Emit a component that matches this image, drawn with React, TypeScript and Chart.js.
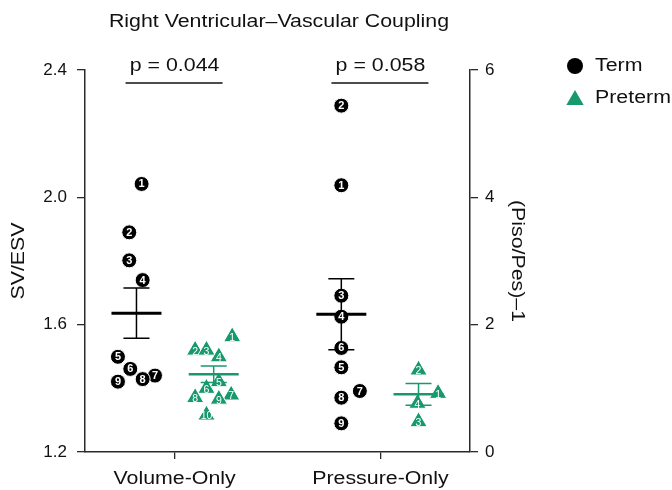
import React, { useEffect, useRef } from 'react';
import { Chart, registerables } from 'chart.js';

Chart.register(...registerables);

// ---- data ----
const categories = ['Volume-Only', 'Pressure-Only'];
const categoryPositions = [1, 3];
const pValueLabels = ['p = 0.044', 'p = 0.058'];
const titleText = 'Right Ventricular–Vascular Coupling';
const leftAxisTitle = 'SV/ESV';
const rightAxisTitle = '(Piso/Pes)–1';
const legendLabels = ['Term', 'Preterm'];
const leftTicks = [1.2, 1.6, 2.0, 2.4];
const rightTicks = [0, 2, 4, 6];

// Volume-Only (SV/ESV, left axis)
const termVolumeIds = [1, 2, 3, 4, 5, 6, 7, 8, 9];
const termVolumeValues = [2.042, 1.89, 1.802, 1.74, 1.499, 1.461, 1.44, 1.429, 1.421];
const termVolumeJitter = [-0.32, -0.44, -0.44, -0.31, -0.55, -0.43, -0.19, -0.31, -0.55];

const pretermVolumeIds = [1, 2, 3, 4, 5, 6, 7, 8, 9, 10];
const pretermVolumeValues = [1.562, 1.52, 1.52, 1.499, 1.421, 1.4, 1.379, 1.371, 1.366, 1.316];
const pretermVolumeJitter = [0.56, 0.2, 0.31, 0.43, 0.43, 0.31, 0.55, 0.2, 0.43, 0.31];

// Pressure-Only ((Piso/Pes)-1, right axis)
const termPressureIds = [1, 2, 3, 4, 5, 6, 7, 8, 9];
const termPressureValues = [4.19, 5.44, 2.455, 2.125, 1.33, 1.634, 0.958, 0.853, 0.45];
const termPressureJitter = [-0.38, -0.38, -0.38, -0.38, -0.38, -0.38, -0.2, -0.38, -0.38];

const pretermPressureIds = [1, 2, 3, 4];
const pretermPressureValues = [0.921, 1.288, 0.476, 0.765];
const pretermPressureJitter = [0.56, 0.37, 0.37, 0.36];

// group summaries: mean and SEM (Term-Vol, Preterm-Vol, Term-Press, Preterm-Press)
const groupMeans = [1.636, 1.444, 2.163, 0.906];
const groupSem = [0.079, 0.026, 0.557, 0.17];
const groupOffsets = [-0.37, 0.38, -0.38, 0.37];
const groupCategory = [0, 0, 1, 1];
const groupAxis = ['y', 'y', 'y2', 'y2'];
const groupIsTerm = [true, false, true, false];

const TERM_COLOR = '#000000';
const PRETERM_COLOR = '#17996d';
const TEXT_COLOR = '#111111';
const AXIS_COLOR = '#2a2a2a';
const FONT_FAMILY = '"Liberation Sans", Arial, Helvetica, sans-serif';
const TEXT_STRETCH = 1.22;

function makePoints(values: number[], jitter: number[], cat: number) {
  return values.map((v, i) => ({ x: categoryPositions[cat] + jitter[i], y: v }));
}

function drawTriangle(ctx: CanvasRenderingContext2D, x: number, y: number, r: number) {
  ctx.beginPath();
  ctx.moveTo(x, y - r);
  ctx.lineTo(x + r * Math.sin(Math.PI / 3), y + r / 2);
  ctx.lineTo(x - r * Math.sin(Math.PI / 3), y + r / 2);
  ctx.closePath();
}

function stretchFor(text: any) {
  const s = String(text);
  return /^[\d.\s]+$/.test(s) ? 1 : TEXT_STRETCH;
}

// widen word labels horizontally, as in the reference figure
const wideTextPlugin = {
  id: 'wideText',
  beforeInit(chart: any) {
    const ctx: any = chart.ctx;
    if (ctx.__wide) return;
    ctx.__wide = true;
    const origFill = ctx.fillText.bind(ctx);
    const origMeasure = ctx.measureText.bind(ctx);
    ctx.fillText = (text: string, x: number, y: number, maxWidth?: number) => {
      const f = stretchFor(text);
      if (f === 1) {
        if (maxWidth === undefined) origFill(text, x, y);
        else origFill(text, x, y, maxWidth);
        return;
      }
      ctx.save();
      ctx.translate(x, y);
      ctx.scale(f, 1);
      origFill(text, 0, 0);
      ctx.restore();
    };
    ctx.measureText = (text: string) => {
      const m = origMeasure(text);
      const f = stretchFor(text);
      if (f === 1) return m;
      return {
        width: m.width * f,
        actualBoundingBoxAscent: m.actualBoundingBoxAscent,
        actualBoundingBoxDescent: m.actualBoundingBoxDescent,
        actualBoundingBoxLeft: m.actualBoundingBoxLeft * f,
        actualBoundingBoxRight: m.actualBoundingBoxRight * f,
        fontBoundingBoxAscent: m.fontBoundingBoxAscent,
        fontBoundingBoxDescent: m.fontBoundingBoxDescent,
      };
    };
  },
};

const overlayPlugin = {
  id: 'overlay',
  afterDatasetsDraw(chart: any) {
    const ctx: CanvasRenderingContext2D = chart.ctx;
    const xs = chart.scales.x;
    const area = chart.chartArea;
    ctx.save();

    // mean +/- SEM bars
    groupMeans.forEach((m, g) => {
      const ys = chart.scales[groupAxis[g]];
      const cx = xs.getPixelForValue(categoryPositions[groupCategory[g]] + groupOffsets[g]);
      const my = ys.getPixelForValue(m);
      const top = ys.getPixelForValue(m + groupSem[g]);
      const bot = ys.getPixelForValue(m - groupSem[g]);
      const col = groupIsTerm[g] ? TERM_COLOR : PRETERM_COLOR;
      ctx.strokeStyle = col;
      ctx.lineWidth = 1.5;
      ctx.beginPath();
      ctx.moveTo(cx, top);
      ctx.lineTo(cx, bot);
      ctx.moveTo(cx - 13, top);
      ctx.lineTo(cx + 13, top);
      ctx.moveTo(cx - 13, bot);
      ctx.lineTo(cx + 13, bot);
      ctx.stroke();
      ctx.lineWidth = groupIsTerm[g] ? 3 : 2.5;
      ctx.beginPath();
      ctx.moveTo(cx - 25, my);
      ctx.lineTo(cx + 25, my);
      ctx.stroke();
    });

    // numeric labels inside markers
    const idLists = [termVolumeIds, pretermVolumeIds, termPressureIds, pretermPressureIds];
    chart.data.datasets.forEach((ds: any, di: number) => {
      if (di > 3) return;
      const meta = chart.getDatasetMeta(di);
      const isTriangle = di % 2 === 1;
      ctx.fillStyle = '#ffffff';
      ctx.textAlign = 'center';
      ctx.textBaseline = 'middle';
      ctx.font = isTriangle ? `10.5px ${FONT_FAMILY}` : `bold 11px ${FONT_FAMILY}`;
      meta.data.forEach((pt: any, i: number) => {
        const dy = isTriangle ? 1.5 : 0.5;
        ctx.fillText(String(idLists[di][i]), pt.x, pt.y + dy);
      });
    });

    // p-value brackets
    ctx.fillStyle = TEXT_COLOR;
    ctx.strokeStyle = '#111111';
    ctx.lineWidth = 1.5;
    ctx.font = `17.5px ${FONT_FAMILY}`;
    ctx.textAlign = 'center';
    ctx.textBaseline = 'middle';
    categoryPositions.forEach((p, i) => {
      const cx = xs.getPixelForValue(p);
      ctx.beginPath();
      ctx.moveTo(cx - 49, area.top + 13);
      ctx.lineTo(cx + 48, area.top + 13);
      ctx.stroke();
      ctx.fillText(pValueLabels[i], cx, area.top - 4);
    });

    // legend
    const lx = area.right + 105;
    ctx.textAlign = 'left';
    ctx.fillStyle = TERM_COLOR;
    ctx.beginPath();
    ctx.arc(lx, area.top - 4, 8, 0, Math.PI * 2);
    ctx.fill();
    ctx.fillStyle = PRETERM_COLOR;
    drawTriangle(ctx, lx, area.top + 30, 10);
    ctx.fill();
    ctx.fillStyle = TEXT_COLOR;
    ctx.fillText(legendLabels[0], lx + 20, area.top - 4);
    ctx.fillText(legendLabels[1], lx + 20, area.top + 28);
    ctx.restore();
  },
};

export default function App() {
  const ref = useRef<HTMLCanvasElement | null>(null);
  useEffect(() => {
    if (!ref.current) return;
    const tickFont = { family: FONT_FAMILY, size: 17 };
    const labelFont = { family: FONT_FAMILY, size: 17.5 };
    const chart = new Chart(ref.current, {
      type: 'scatter',
      data: {
        datasets: [
          {
            label: 'Term',
            data: makePoints(termVolumeValues, termVolumeJitter, 0),
            yAxisID: 'y',
            pointStyle: 'circle',
            pointRadius: 7.5,
            backgroundColor: TERM_COLOR,
            borderColor: '#ffffff',
            borderWidth: 1,
          },
          {
            label: 'Preterm',
            data: makePoints(pretermVolumeValues, pretermVolumeJitter, 0),
            yAxisID: 'y',
            pointStyle: 'triangle',
            pointRadius: 10,
            backgroundColor: PRETERM_COLOR,
            borderColor: '#ffffff',
            borderWidth: 1,
          },
          {
            label: 'Term',
            data: makePoints(termPressureValues, termPressureJitter, 1),
            yAxisID: 'y2',
            pointStyle: 'circle',
            pointRadius: 7.5,
            backgroundColor: TERM_COLOR,
            borderColor: '#ffffff',
            borderWidth: 1,
          },
          {
            label: 'Preterm',
            data: makePoints(pretermPressureValues, pretermPressureJitter, 1),
            yAxisID: 'y2',
            pointStyle: 'triangle',
            pointRadius: 10,
            backgroundColor: PRETERM_COLOR,
            borderColor: '#ffffff',
            borderWidth: 1,
          },
        ],
      },
      options: {
        animation: false,
        responsive: false,
        devicePixelRatio: 1,
        layout: { padding: { left: 0, right: 114, top: 0, bottom: 0 } },
        plugins: {
          legend: { display: false },
          tooltip: { enabled: false },
          title: {
            display: true,
            text: titleText,
            color: TEXT_COLOR,
            font: { family: FONT_FAMILY, size: 17.5, weight: 'normal' },
            padding: { top: 12, bottom: 37 },
          },
        },
        scales: {
          x: {
            type: 'linear',
            min: 0.13,
            max: 3.87,
            afterBuildTicks: (s: any) => {
              s.ticks = categoryPositions.map((v) => ({ value: v }));
            },
            afterFit: (s: any) => {
              s.height = 38;
            },
            ticks: {
              font: labelFont,
              color: TEXT_COLOR,
              padding: 10,
              maxRotation: 0,
              callback: (v: any) => categories[categoryPositions.indexOf(Number(v))] ?? '',
            },
            grid: { drawOnChartArea: false, drawTicks: true, tickLength: 7, color: AXIS_COLOR, lineWidth: 1.3 },
            border: { display: true, color: AXIS_COLOR, width: 1.5 },
          },
          y: {
            type: 'linear',
            position: 'left',
            min: 1.2,
            max: 2.4,
            afterBuildTicks: (s: any) => {
              s.ticks = leftTicks.map((v) => ({ value: v }));
            },
            afterFit: (s: any) => {
              s.width = 85;
            },
            ticks: {
              font: tickFont,
              color: TEXT_COLOR,
              padding: 10,
              callback: (v: any) => Number(v).toFixed(1),
            },
            title: {
              display: true,
              text: leftAxisTitle,
              color: TEXT_COLOR,
              font: labelFont,
              padding: { top: 9, bottom: 0 },
            },
            grid: { drawOnChartArea: false, drawTicks: true, tickLength: 8, color: AXIS_COLOR, lineWidth: 1.3 },
            border: { display: true, color: AXIS_COLOR, width: 1.5 },
          },
          y2: {
            type: 'linear',
            position: 'right',
            min: 0,
            max: 6,
            afterBuildTicks: (s: any) => {
              s.ticks = rightTicks.map((v) => ({ value: v }));
            },
            afterFit: (s: any) => {
              s.width = 88;
            },
            ticks: {
              font: tickFont,
              color: TEXT_COLOR,
              padding: 7,
              callback: (v: any) => String(v),
            },
            title: {
              display: true,
              text: rightAxisTitle,
              color: TEXT_COLOR,
              font: labelFont,
              padding: { top: 31, bottom: 0 },
            },
            grid: { drawOnChartArea: false, drawTicks: true, tickLength: 8, color: AXIS_COLOR, lineWidth: 1.3 },
            border: { display: true, color: AXIS_COLOR, width: 1.5 },
          },
        },
      },
      plugins: [wideTextPlugin, overlayPlugin],
    } as any);
    return () => chart.destroy();
  }, []);

  return (
    <div style={{ position: 'fixed', left: 0, top: 0, width: 672, height: 490, background: '#ffffff' }}>
      <canvas ref={ref} width={672} height={490} style={{ display: 'block' }} />
    </div>
  );
}
